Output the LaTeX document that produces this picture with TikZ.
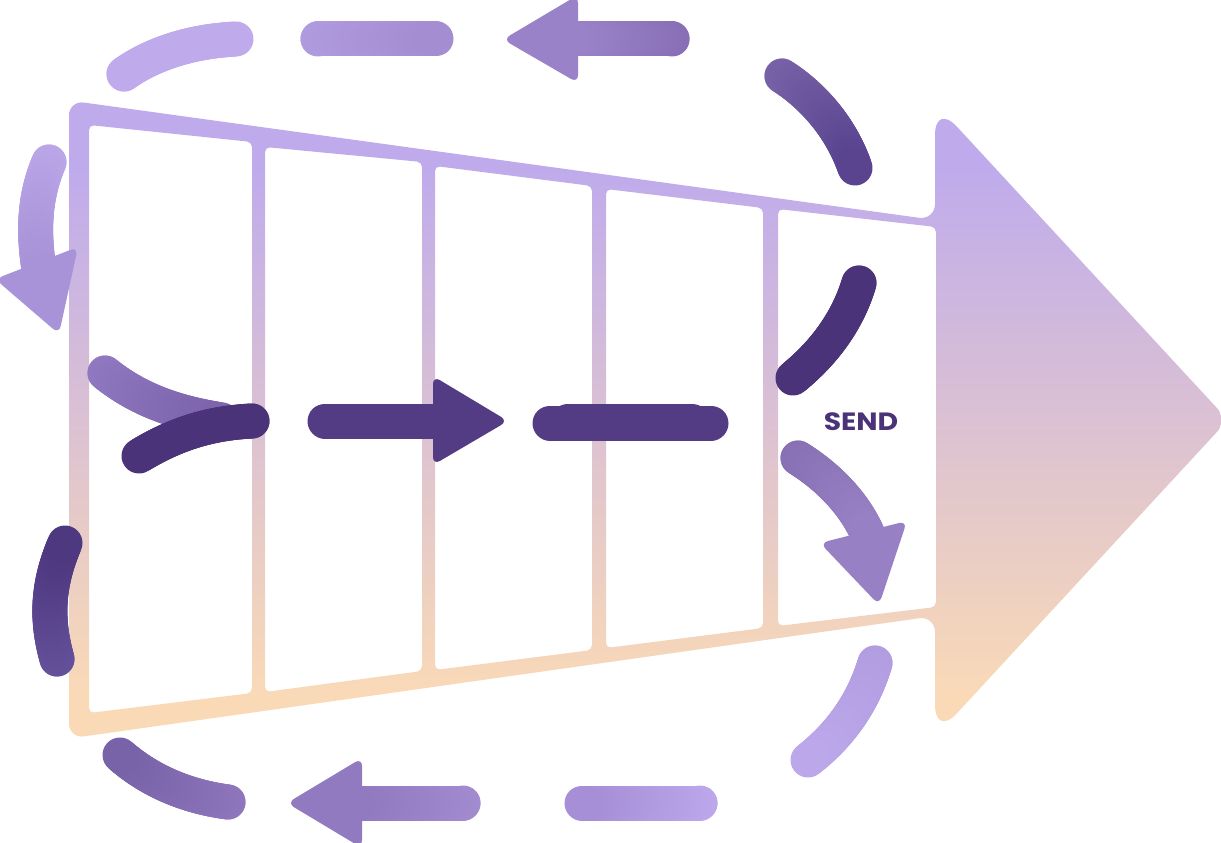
\documentclass[tikz,border=0pt]{standalone}
\usepackage{fontspec}
\setmainfont{Poppins}
\definecolor{funnelTop}{HTML}{BFABEC}
\definecolor{funnelBot}{HTML}{FADAB6}
\definecolor{darkPurple}{HTML}{4B3379}
\definecolor{midPurple}{HTML}{533C83}
\pgfdeclareverticalshading{funnelshade}{100bp}{
    color(0bp)=(funnelBot); color(27.9bp)=(funnelBot);
    color(69.7bp)=(funnelTop); color(100bp)=(funnelTop)}
\tikzset{
    funnel/.style={even odd rule, shading=funnelshade},
    band/.style={line width=35pt, line cap=round},
    head/.style={rounded corners=8pt}
}
% stroke whose colour runs from #1 to #2 along the curve #3
\newcommand{\gradstroke}[3]{
    \definecolor{strokeA}{HTML}{#1}
    \definecolor{strokeB}{HTML}{#2}
    \foreach \k [remember=\k as \j (initially 0)] in {0,...,40} {
        \path #3 coordinate[pos=\k/40] (s\k);
        \pgfmathtruncatemacro{\p}{\k*100/40}
        \draw[band, draw={strokeB!\p!strokeA}] (s\j) -- (s\k);
    }
}
\begin{document}
\begin{tikzpicture}[x=1pt, y=-1pt]
    \useasboundingbox (0,0) rectangle (1221,843);

    % Funnel and big arrow, cells cut out
    \shade[funnel]
        [rounded corners=15pt] (69,100.5)
        [rounded corners=16pt] -- (935,220)
        [rounded corners=32pt] -- (935,103)
        [rounded corners=16pt] -- (1228,420)
        [rounded corners=32pt] -- (935,737)
        [rounded corners=16pt] -- (935,616)
        [rounded corners=15pt] -- (69,738.5) -- cycle
        [rounded corners=5pt]
        (89,125) -- (252,142) -- (252,693) -- (89,713) -- cycle
        (265,147) -- (422,162) -- (422,671) -- (265,692) -- cycle
        (435,166) -- (592,186) -- (592,650) -- (435,670) -- cycle
        (606,189) -- (763,208) -- (763,628) -- (606,648) -- cycle
        (778,209) -- (936,227) -- (936,607) -- (778,626) -- cycle;

    % Outer ring, top
    \gradstroke{BFABEC}{BFABEC}{(124,74) .. controls (155,52) and (195,41) .. (236,39)}
    \gradstroke{B19BDF}{A48DD0}{(318,39) -- (436,39)}
    \gradstroke{886FB5}{9A82C8}{(672,39) -- (570,39)}
    \fill[head, strokeB] (578,-5) -- (503,39.5) -- (578,83) -- cycle;
    \gradstroke{7863A8}{5A4490}{(782,76) .. controls (815,97) and (842,130) .. (855,168)}

    % Outer ring, bottom
    \gradstroke{B19DE0}{BCA7EA}{(875,663) .. controls (863,703) and (840,735) .. (808,760)}
    \gradstroke{BDA8EC}{A68FD6}{(700,803) -- (582,803)}
    \gradstroke{A38BD0}{917AC0}{(463,803) -- (355,803)}
    \fill[head, strokeB] (362,758) -- (287,803) -- (362,848) -- cycle;
    \gradstroke{8F76BD}{7862A8}{(228,802) .. controls (190,797) and (152,783) .. (120,755)}

    % Outer ring, left
    \gradstroke{65509B}{4E3880}{(57,659) .. controls (46,620) and (47,585) .. (65,543)}
    \gradstroke{BBA6E8}{A893D8}{(49,162) .. controls (35,195) and (32,230) .. (40,275)}
    \fill[head, strokeB] (-5,279) -- (78,247) -- (59,334) -- cycle;

    % Inner ring
    \gradstroke{9079C0}{7D64AC}{(105,373) .. controls (135,397) and (170,412) .. (222,420)}
    \gradstroke{4B3379}{4B3379}{(252,421) .. controls (210,423) and (175,434) .. (139,456)}
    \draw[band, midPurple] (325,421) -- (440,421);
    \fill[head, midPurple] (433,376) -- (508,421) -- (433,465) -- cycle;
    \draw[band, midPurple] (568,421) -- (692,421);
    \draw[band, midPurple] (550,423) -- (711,423);
    \gradstroke{4B3379}{4B3379}{(859,283) .. controls (848,320) and (825,352) .. (793,378)}
    \gradstroke{8870B5}{9880C4}{(798,458) .. controls (830,478) and (855,505) .. (868,535)}
    \fill[head, strokeB] (820,543) -- (907,521) -- (879,605) -- cycle;

    % Label
    \node[inner sep=0pt, text=darkPurple, font=\fontsize{25}{25}\selectfont\bfseries, xscale=1.13, transform shape] (send) at (861,421.5) {SEND};
\end{tikzpicture}
\end{document}
